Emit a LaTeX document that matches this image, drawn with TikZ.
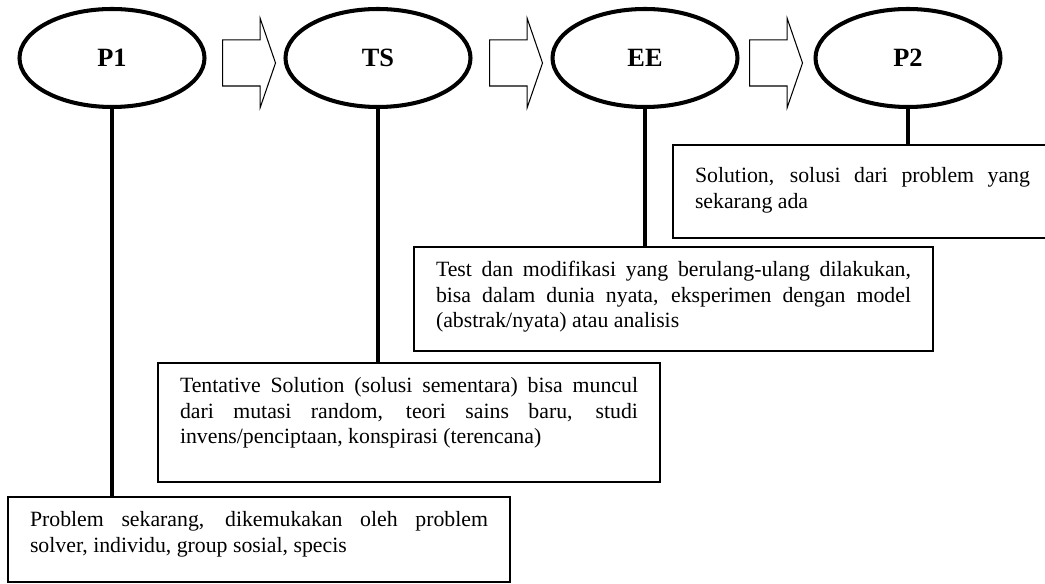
\documentclass[tikz,border=0pt]{standalone}
\usepackage{fontspec}
\setmainfont{Liberation Serif}
\usetikzlibrary{shapes.geometric,shapes.arrows}
\begin{document}
\begin{tikzpicture}[
  etape/.style={ellipse,draw,line width=2.3pt,minimum width=3.7cm,minimum height=1.96cm,inner sep=0pt,font=\fontsize{15}{18}\selectfont\bfseries},
  fleche/.style={single arrow,draw,line width=0.6pt,inner xsep=0pt,inner ysep=0.45cm,minimum height=1.06cm,single arrow head extend=0.43cm,single arrow tip angle=142,anchor=tail},
  boite/.style={draw,line width=0.9pt,anchor=north west,outer sep=0pt,inner xsep=0.44cm,inner ysep=0.2cm,text height=0.4cm,align=justify,font=\fontsize{12.4}{14.5}\selectfont},
  tige/.style={line width=2pt}]
\useasboundingbox (0,0) rectangle (20.9,11.66); % le cadre de l'image
\node[etape] (p1) at (2.24,10.5) {P1};
\node[etape] (ts) at (7.56,10.5) {TS};
\node[etape] (ee) at (12.90,10.5) {EE};
\node[etape] (p2) at (18.16,10.5) {P2};
\node[fleche] (f1) at (4.44,10.4) {}; % P1 vers TS
\node[fleche] (f2) at (9.78,10.4) {}; % TS vers EE
\node[fleche] (f3) at (14.98,10.4) {}; % EE vers P2
\node[boite,text width=6.70cm,text height=0.56cm,text depth=0.90cm] (bp2) at (13.46,8.76) {Solution, solusi dari problem yang\linebreak sekarang ada};
\node[boite,text width=9.50cm,text depth=1.28cm] (bee) at (8.28,6.72) {Test dan modifikasi yang berulang-ulang dilakukan,\linebreak bisa dalam dunia nyata, eksperimen dengan model\linebreak (abstrak/nyata) atau analisis};
\node[boite,text width=9.16cm,text depth=1.58cm] (bts) at (3.16,4.40) {Tentative Solution (solusi sementara) bisa muncul\linebreak dari mutasi random, teori sains baru, studi\linebreak invens/penciptaan, konspirasi (terencana)};
\node[boite,text width=9.16cm,text depth=0.90cm] (bp1) at (0.16,1.72) {Problem sekarang, dikemukakan oleh problem\linebreak solver, individu, group sosial, specis};
\draw[tige] (p1.south) -- (p1.south |- bp1.north); % les tiges
\draw[tige] (ts.south) -- (ts.south |- bts.north);
\draw[tige] (ee.south) -- (ee.south |- bee.north);
\draw[tige] (p2.south) -- (p2.south |- bp2.north);
\end{tikzpicture}
\end{document}
